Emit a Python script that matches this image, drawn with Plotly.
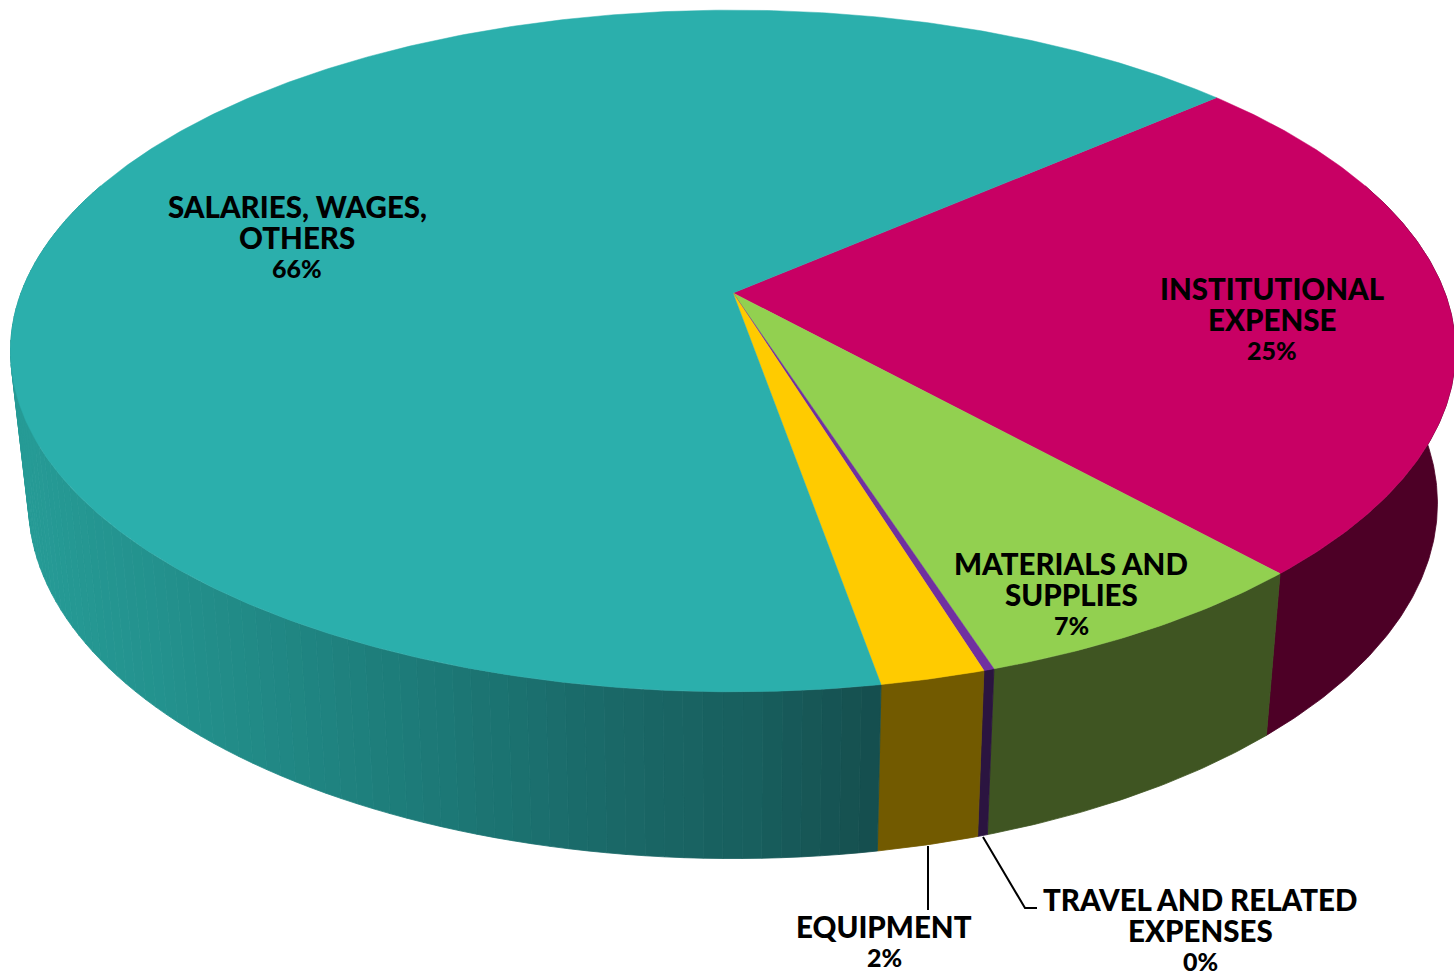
import numpy as np
import plotly.graph_objects as go

# ---- data (clockwise, starting at the teal/red boundary) ----
categories = ["INSTITUTIONAL EXPENSE", "MATERIALS AND SUPPLIES", "TRAVEL AND RELATED EXPENSES", "EQUIPMENT", "SALARIES, WAGES, OTHERS"]
values = [24.67, 6.75, 0.2, 2.0, 66.38]
percent_labels = ["25%", "7%", "0%", "2%", "66%"]
label_lines = [["INSTITUTIONAL", "EXPENSE"], ["MATERIALS AND", "SUPPLIES"], ["TRAVEL AND RELATED", "EXPENSES"], ["EQUIPMENT"], ["SALARIES, WAGES,", "OTHERS"]]
top_colors = ["#C80064", "#92D050", "#7030A0", "#FFCB00", "#2BAFAC"]
side_colors = ["#4D0026", "#3F5522", "#2B1440", "#725A00", None]

# ---- styling / projection ----
START_DEG = 49.0
APEX_X, APEX_Y = 733.0, 293.0
A, B, K = 712.0, 331.0, 0.170
BOT_Y, BOT_SX, BOT_SY = 443.0, 0.975, 1.042
label_pos = [(1272, 288), (1071, 563), (1200, 899), (884, 926), (297, 206)]
LINE_GAP = 31
FONT = dict(family="Lato", size=29.5, color="#000000", weight=900)
PCT_FONT = dict(family="Lato", size=25, color="#000000", weight=900)
SHADE_STOPS = [(20, (38, 155, 150)), (200, (34, 142, 138)), (450, (28, 119, 117)),
               (600, (26, 105, 104)), (750, (24, 95, 94)), (880, (21, 78, 78))]


def top(theta):
    u, v = np.sin(theta), -np.cos(theta)
    d = 1 - K * v
    return A * u / d, B * v / d


def top_xy(theta):
    x, y = top(theta)
    return APEX_X + x, APEX_Y + y


def bottom_xy(theta):
    x, y = top(theta)
    return APEX_X + BOT_SX * x, BOT_Y + BOT_SY * y


def strip(fig, t0, t1, color):
    ts = np.linspace(t0, t1, max(2, int(abs(t1 - t0) / np.radians(0.5)) + 2))
    xt, yt = top_xy(ts)
    xb, yb = bottom_xy(ts[::-1])
    fig.add_trace(go.Scatter(
        x=np.r_[xt, xb, xt[0]], y=np.r_[yt, yb, yt[0]], mode="lines", fill="toself",
        fillcolor=color, line=dict(color=color, width=0.8), hoverinfo="skip", showlegend=False))


def teal_shade(x):
    xs = [s[0] for s in SHADE_STOPS]
    return "rgb(%d,%d,%d)" % tuple(round(np.interp(x, xs, [s[1][c] for s in SHADE_STOPS])) for c in range(3))


edges = np.radians(START_DEG + np.r_[0, np.cumsum(values)] * 3.6)
fig = go.Figure()

# side wall: only the front part of the ring is drawn
vis_start, vis_end = np.radians(70), np.radians(290)
for i, col in enumerate(side_colors):
    t0, t1 = max(edges[i], vis_start), min(edges[i + 1], vis_end)
    if col is not None:
        strip(fig, t0, t1, col)
    else:
        n = 90
        g = np.linspace(t0, t1, n + 1)
        for j in range(n):
            mid_x = top_xy(0.5 * (g[j] + g[j + 1]))[0]
            strip(fig, g[j], g[j + 1], teal_shade(mid_x))

# top face
for i, col in enumerate(top_colors):
    ts = np.linspace(edges[i], edges[i + 1], max(3, int((edges[i + 1] - edges[i]) / np.radians(0.5))))
    xs, ys = top_xy(ts)
    fig.add_trace(go.Scatter(
        x=np.r_[APEX_X, xs, APEX_X], y=np.r_[APEX_Y, ys, APEX_Y], mode="lines", fill="toself",
        fillcolor=col, line=dict(color=col, width=0.5), name=categories[i],
        text=percent_labels[i], hoverinfo="name+text", showlegend=False))

# leader lines
for lx, ly in [([928, 928], [846, 910]), ([983, 1025, 1037], [837, 908, 908])]:
    fig.add_trace(go.Scatter(x=lx, y=ly, mode="lines", line=dict(color="#000000", width=2),
                             hoverinfo="skip", showlegend=False))

# labels: one annotation per line for exact leading
for (cx, cy), lines, pct in zip(label_pos, label_lines, percent_labels):
    for n, t in enumerate(lines + [pct]):
        fig.add_annotation(x=cx, y=cy + n * LINE_GAP, text=t, showarrow=False,
                           font=PCT_FONT if t == pct else FONT,
                           xanchor="center", yanchor="middle")

fig.update_xaxes(range=[0, 1454], visible=False, fixedrange=True)
fig.update_yaxes(range=[976, 0], visible=False, fixedrange=True)
fig.update_layout(width=1454, height=976, margin=dict(l=0, r=0, t=0, b=0),
                  plot_bgcolor="#FFFFFF", paper_bgcolor="#FFFFFF", showlegend=False)
fig.write_html("out.html", config=dict(displayModeBar=False),
               post_script="document.body.style.margin='0';document.body.style.overflow='hidden';")
